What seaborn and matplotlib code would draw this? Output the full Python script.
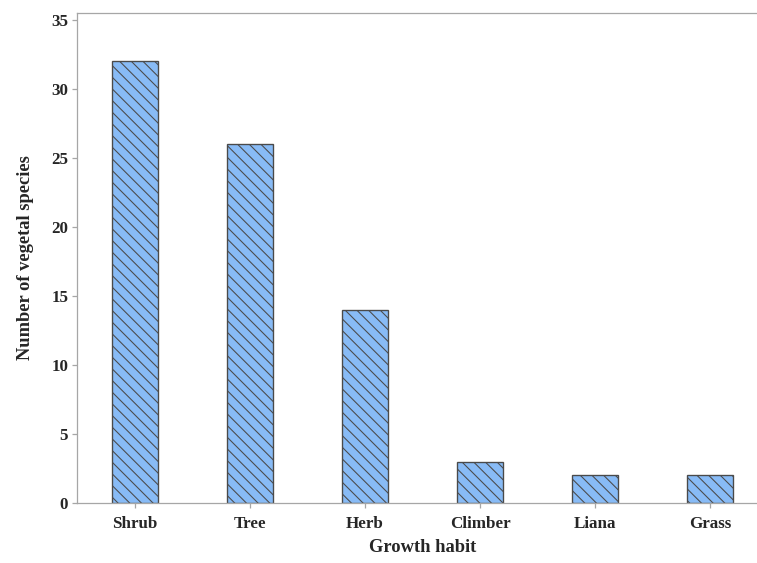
import numpy as np
import pandas as pd
import matplotlib
matplotlib.use("Agg")
import matplotlib.pyplot as plt
import seaborn as sns

# data
habits = ["Shrub", "Tree", "Herb", "Climber", "Liana", "Grass"]
counts = [32, 26, 14, 3, 2, 2]
y_ticks = [0, 5, 10, 15, 20, 25, 30, 35]

df = pd.DataFrame({"habit": habits, "count": counts})

sns.set_style("white")
plt.rcParams["font.family"] = ["Liberation Serif", "DejaVu Serif"]
plt.rcParams["font.weight"] = "bold"
plt.rcParams["hatch.linewidth"] = 1.1

# dpi 70 so the hatch spacing matches the reference
dpi = 70
fig = plt.figure(figsize=(757 / dpi, 563 / dpi), dpi=dpi)
# axes run past the right edge, as in the reference
ax = fig.add_axes([77 / 757, 60 / 563, 691 / 757, 490 / 563])

sns.barplot(data=df, x="habit", y="count", color="#88bbf6", saturation=1,
            width=0.4, edgecolor="#4a4a4a", linewidth=1.4, ax=ax)
for bar in ax.patches:
    bar.set_hatch("\\\\")

ax.set_xlim(-0.5, 5.5)
ax.set_ylim(0, 35.5)
ax.set_yticks(y_ticks)

grey = "#a6a6a6"
for side in ["left", "top", "bottom", "right"]:
    ax.spines[side].set_color(grey)
    ax.spines[side].set_linewidth(1.3)
ax.tick_params(axis="both", direction="out", length=5, width=1.3, color=grey,
               labelsize=17.5, pad=4)
ax.tick_params(axis="x", pad=8)
ax.tick_params(left=True, bottom=True)
for lab in ax.get_xticklabels() + ax.get_yticklabels():
    lab.set_fontweight("bold")

ax.set_xlabel("Growth habit", fontsize=19, fontweight="bold", labelpad=8)
ax.set_ylabel("Number of vegetal species", fontsize=19, fontweight="bold", labelpad=18)

fig.savefig("out.png", dpi=dpi)
